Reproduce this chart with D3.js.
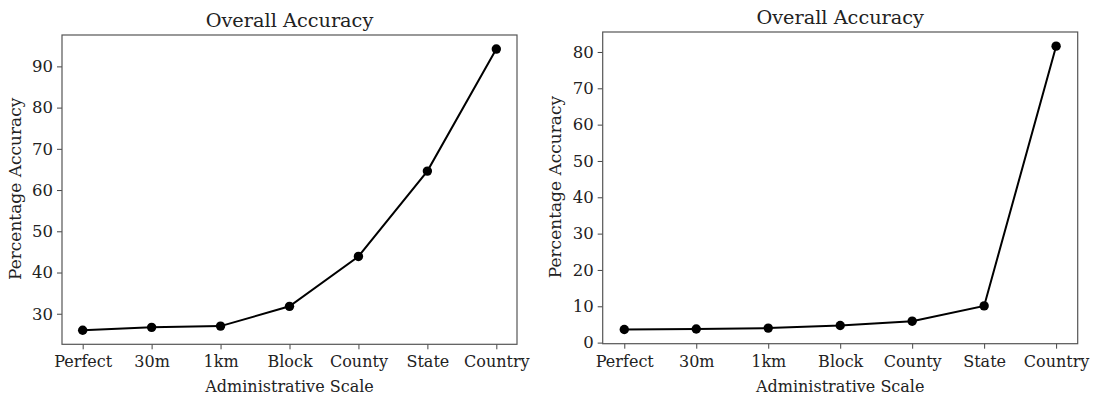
<!DOCTYPE html>
<html><head><meta charset="utf-8">
<script src="https://cdn.jsdelivr.net/npm/d3@7"></script>
<style>
body{margin:0;background:#fff;}
text{font-family:"DejaVu Serif",serif;fill:#222;}
</style></head>
<body><svg id="c" width="1094" height="399"></svg>
<script>
const categories = ["Perfect","30m","1km","Block","County","State","Country"];
const leftValues = [26.0, 26.7, 27.0, 31.8, 43.9, 64.6, 94.2];
const rightValues = [3.6, 3.75, 4.0, 4.7, 5.9, 10.1, 81.6];
const leftTicks = [30,40,50,60,70,80,90];
const rightTicks = [0,10,20,30,40,50,60,70,80];
const titleText = "Overall Accuracy";
const xLabelText = "Administrative Scale";
const yLabelText = "Percentage Accuracy";

const svg = d3.select("#c");

function panel(box, values, ticks, titleY) {
  const g = svg.append("g");
  const n = categories.length;
  const x = d3.scaleLinear().domain([-0.3, n - 1 + 0.3]).range([box.l, box.r]);
  const lo = d3.min(values), hi = d3.max(values), m = (hi - lo) * 0.05;
  const y = d3.scaleLinear().domain([lo - m, hi + m]).range([box.b, box.t]);

  const xa = d3.axisBottom(x).tickValues(d3.range(n)).tickFormat(i => categories[i]).tickSize(5).tickPadding(6.5);
  const ya = d3.axisLeft(y).tickValues(ticks).tickSize(5).tickPadding(4);
  const gx = g.append("g").attr("transform", `translate(0,${box.b})`).call(xa);
  const gy = g.append("g").attr("transform", `translate(${box.l},0)`).call(ya);
  [gx, gy].forEach(a => {
    a.select(".domain").remove();
    a.selectAll(".tick line").attr("stroke", "#444").attr("stroke-width", 1);
    a.selectAll(".tick text").style("font-family", "DejaVu Serif").style("font-size", "16px").attr("fill", "#222");
  });
  gy.selectAll(".tick text").style("font-size", "16.5px");
  g.append("rect").attr("x", box.l).attr("y", box.t).attr("width", box.r - box.l).attr("height", box.b - box.t)
    .attr("fill", "none").attr("stroke", "#555").attr("stroke-width", 1.2);

  const line = d3.line().x((d, i) => x(i)).y(d => y(d));
  g.append("path").datum(values).attr("d", line).attr("fill", "none").attr("stroke", "#000").attr("stroke-width", 2);
  g.selectAll("circle.pt").data(values).enter().append("circle")
    .attr("cx", (d, i) => x(i)).attr("cy", d => y(d)).attr("r", 4.7).attr("fill", "#000");

  g.append("text").attr("x", (box.l + box.r) / 2).attr("y", titleY).attr("text-anchor", "middle")
    .style("font-size", "19.3px").text(titleText);
  g.append("text").attr("x", (box.l + box.r) / 2).attr("y", 392).attr("text-anchor", "middle")
    .style("font-size", "16px").text(xLabelText);
  g.append("text").attr("transform", `translate(${box.l - 41.5},${(box.t + box.b) / 2 - 0.8}) rotate(-90)`)
    .attr("text-anchor", "middle").style("font-size", "17px").text(yLabelText);
}

panel({l: 62, r: 517, t: 35, b: 344.3}, leftValues, leftTicks, 27);
panel({l: 602.7, r: 1077.7, t: 32, b: 343.7}, rightValues, rightTicks, 23.5);
</script></body></html>
